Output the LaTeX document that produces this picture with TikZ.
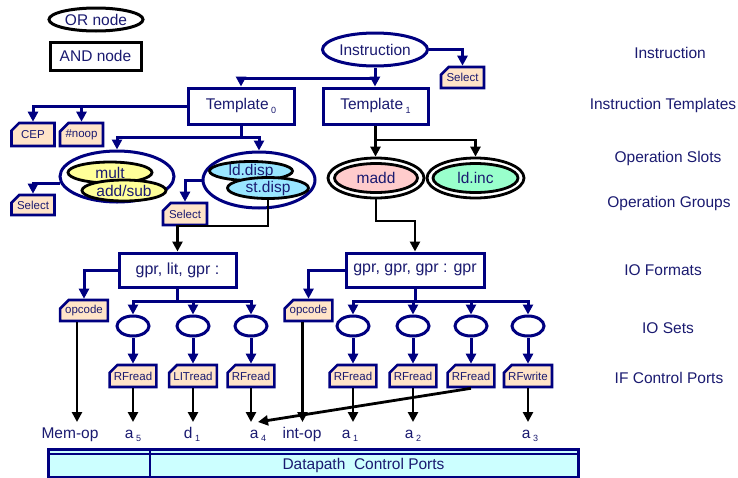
\documentclass[tikz,border=0pt]{standalone}
\usepackage{fontspec}
\setmainfont{Liberation Sans}
\usetikzlibrary{shapes.geometric,shapes.misc,arrows.meta}
\definecolor{nv}{RGB}{0,0,128}
\definecolor{txt}{RGB}{26,26,112}
\definecolor{peach}{RGB}{255,228,200}
\definecolor{yel}{RGB}{255,255,153}
\definecolor{cyn}{RGB}{153,230,255}
\definecolor{pnk}{RGB}{255,204,204}
\definecolor{mint}{RGB}{153,255,204}
\definecolor{barc}{RGB}{204,255,255}
\newcommand\mysub[1]{\,\raisebox{-0.45ex}{\fontsize{9}{9}\selectfont #1}}
\begin{document}
\begin{tikzpicture}[x=1pt,y=-1pt,
  every node/.style={text=txt, font=\fontsize{15.5}{18}\selectfont, inner sep=0pt},
  orn/.style={ellipse, draw=nv, line width=3pt, fill=white},
  blk/.style={ellipse, draw=black, line width=2.8pt},
  andn/.style={rectangle, draw=nv, line width=3pt, fill=white},
  tag/.style={chamfered rectangle, chamfered rectangle corners=north west,
    chamfered rectangle xsep=5pt, draw=nv, line width=2.6pt, fill=peach,
    minimum width=43pt, minimum height=22pt, font=\fontsize{11.5}{13}\selectfont},
  nva/.style={draw=nv, line width=3pt, -{Triangle[length=10pt,width=10pt]}},
  bka/.style={draw=black, line width=2.8pt, -{Triangle[length=10pt,width=10pt]}},
  lvl/.style={font=\fontsize{15.5}{18}\selectfont},
  port/.style={anchor=north, text height=16pt, text depth=4pt},
]
\useasboundingbox (0,0) rectangle (738,477);

% legend
\node[orn, draw=black, minimum width=94pt, minimum height=23pt, label={center:OR node}] (orleg) at (96,19.5) {};
\node[andn, draw=black, minimum width=91pt, minimum height=28pt] (andleg) at (95.5,56) {AND node};

% level labels
\node[lvl] (l1) at (670,53) {Instruction};
\node[lvl] (l2) at (663,105) {Instruction Templates};
\node[lvl] (l3) at (668,158) {Operation Slots};
\node[lvl] (l4) at (669,203) {Operation Groups};
\node[lvl] (l5) at (663,270) {IO Formats};
\node[lvl] (l6) at (668,328) {IO Sets};
\node[lvl] (l7) at (669,378) {IF Control Ports};

% instruction and templates
\node[orn, minimum width=105pt, minimum height=33pt, label={center:Instruction}] (instr) at (375,49.5) {};
\node[tag, minimum height=21pt] (selI) at (462.5,77.5) {Select};
\node[andn, minimum width=106pt, minimum height=36pt] (t0) at (241,106) {Template\mysub{0}};
\node[andn, minimum width=105pt, minimum height=36pt] (t1) at (375.5,106) {Template\mysub{1}};
\node[tag, minimum height=23pt] (cep) at (33,134.5) {CEP};
\node[tag, minimum height=23pt] (noop) at (81.5,134.5) {\#noop};

% operation groups
\node[orn, minimum width=114pt, minimum height=51pt] (g1) at (117,176.5) {};
\node[blk, fill=yel, minimum width=84pt, minimum height=21pt, label={center:mult}] (mult) at (110,172.5) {};
\node[blk, fill=yel, minimum width=84pt, minimum height=21pt, label={center:add/sub}] (addsub) at (124,190.5) {};
\node[tag, minimum height=20pt] (sel2) at (33,205) {Select};

\node[orn, minimum width=112pt, minimum height=56pt] (g2) at (259,180) {};
\node[blk, fill=cyn, minimum width=83pt, minimum height=19pt, label={center:ld.disp}] (lddisp) at (251,171) {};
\node[blk, fill=cyn, minimum width=81pt, minimum height=21pt, label={center:st.disp}] (stdisp) at (268,188) {};
\node[tag, minimum width=44pt] (sel3) at (185,214) {Select};

\node[blk, fill=white, minimum width=96pt, minimum height=40pt] (maddo) at (376,178) {};
\node[blk, fill=pnk, minimum width=83pt, minimum height=29pt, label={center:madd}] (madd) at (376,178) {};
\node[blk, fill=white, minimum width=97pt, minimum height=40pt] (ldinco) at (475.5,178) {};
\node[blk, fill=mint, minimum width=85pt, minimum height=29pt, label={center:ld.inc}] (ldinc) at (475.5,178) {};

% IO formats
\node[andn, minimum width=117pt, minimum height=34pt, font=\fontsize{16}{18}\selectfont] (f1) at (177.5,270) {gpr, lit, gpr :};
\node[andn, minimum width=138pt, minimum height=34pt, font=\fontsize{16}{18}\selectfont] (f2) at (415,270) {gpr, gpr, gpr : gpr};
\node[tag, minimum width=44pt, minimum height=21pt] (op1) at (84,310.5) {opcode};
\node[tag, minimum width=44pt, minimum height=21pt] (op2) at (308.5,310.5) {opcode};

% IO sets and ports
\foreach \i/\x/\t in {1/133/RFread,2/193/LITread,3/251/RFread,4/353/RFread,5/413/RFread,6/471/RFread,7/528/RFwrite}{
  \node[orn, minimum width=32pt, minimum height=20pt] (s\i) at (\x,326) {};
  \node[tag] (p\i) at (\x,376) {\t};
  \draw[nva] (s\i.south) -- (p\i.north);
}

% datapath ports
\node[port] (memop) at (70,422) {Mem-op};
\node[port] (a5) at (133,422) {a\mysub{5}};
\node[port] (d1) at (192,422) {d\mysub{1}};
\node[port] (a4) at (258,422) {a\mysub{4}};
\node[port] (intop) at (302,422) {int-op};
\node[port] (a1) at (350,422) {a\mysub{1}};
\node[port] (a2) at (413,422) {a\mysub{2}};
\node[port] (a3) at (530,422) {a\mysub{3}};

\node[draw=nv, line width=2.5pt, fill=barc, minimum width=530pt, minimum height=28pt, anchor=north west] (dp) at (47,448) {};
\draw[nv, line width=2.2pt] (dp.north west) ++(0,6) -- ++(530,0);
\draw[nv, line width=2.2pt] (dp.north west) ++(103,0) -- ++(0,28);
\node (dpt) at (363.5,465) {Datapath\ \ Control Ports};

% connectors
\draw[nva] (instr.east) -| (selI.north);
\draw[nva] (instr.south) -- (instr.south |- t1.north);
\draw[nva] (instr.south |- 0,78) -| (t0.north);
\draw[nva] (t0.west) -| (cep.north);
\draw[nva] (t0.west) -| (noop.north);
\draw[nva] (t0.south) -- (t0.south |- 0,137) -| (g1.north);
\draw[nva] (t0.south |- 0,137) -| (g2.north);
\draw[nva] (g1.187) -| (sel2.north);
\draw[nva] (g2.west) -| (sel3.north);
\draw[bka] (t1.south) -- (t1.south |- maddo.north);
\draw[bka] (t1.south |- 0,140) -| (ldinco.north);
\draw[bka] (stdisp.south) -- (stdisp.south |- 0,226) -| (f1.north);
\draw[bka] (maddo.south) -- (maddo.south |- 0,221) -| (f2.north);
\draw[nva] (f1.west) -| (op1.north);
\draw[nva] (f2.west) -| (op2.north);
\draw[nva] (f1.south) -- (f1.south |- 0,301) -| (s1.north);
\draw[nva] (f1.south |- 0,301) -| (s2.north);
\draw[nva] (f1.south |- 0,301) -| (s3.north);
\draw[nva] (f2.south) -- (f2.south |- 0,301) -| (s4.north);
\draw[nva] (f2.south |- 0,301) -| (s5.north);
\draw[nva] (f2.south |- 0,301) -| (s6.north);
\draw[nva] (f2.south |- 0,301) -| (s7.north);

\draw[bka] ([xshift=-7pt]op1.south) -- ([xshift=-7pt]op1.south |- memop.north);
\draw[bka] ([xshift=-6pt]op2.south) -- ([xshift=-6pt]op2.south |- intop.north);
\draw[bka] (p1.south) -- (p1.south |- a5.north);
\draw[bka] (p2.south) -- (p2.south |- d1.north);
\draw[bka] (p3.south) -- (p3.south |- a4.north);
\draw[bka] (p4.south) -- (p4.south |- a1.north);
\draw[bka] (p5.south) -- (p5.south |- a2.north);
\draw[bka] (p7.south) -- (p7.south |- a3.north);
\draw[bka] (p6.south) -- (a4.north);
\end{tikzpicture}
\end{document}
